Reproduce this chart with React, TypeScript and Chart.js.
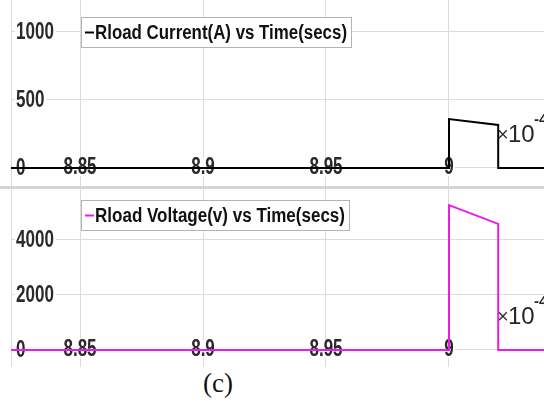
import React, { useEffect, useRef } from 'react';
import { Chart, registerables } from 'chart.js';

Chart.register(...registerables);

// ---- data ----
const timeSecs = [8.8, 9.0, 9.0, 9.02, 9.02, 9.05];
const currentA = [0, 0, 360, 316, 0, 0];
const voltageV = [0, 0, 5250, 4570, 0, 0];
const xTicks = [8.85, 8.9, 8.95, 9];
const xTickLabels = ['8.85', '8.9', '8.95', '9'];
const currentTicks = [0, 500, 1000];
const currentTickLabels = ['0', '500', '1000'];
const voltageTicks = [0, 2000, 4000];
const voltageTickLabels = ['0', '2000', '4000'];
const currentLegend = 'Rload Current(A) vs Time(secs)';
const voltageLegend = 'Rload Voltage(v) vs Time(secs)';
const exponentBase = '10';
const exponentPower = '-4';
const caption = '(c)';

// axis ranges
const X_MIN = 8.82195;
const X_MAX = 9.03862;
const CUR_MIN = -132.4;
const CUR_MAX = 1235;
const VOLT_MIN = -616;
const VOLT_MAX = 5833;

const TICK_FONT = 'bold 23px "Liberation Sans", Arial, sans-serif';
const TICK_SQUEEZE = 0.74;
const LEGEND_FONT = 'bold 20px "Liberation Sans", Arial, sans-serif';
const GRID = '#dcdcdc';

function squeezedText(ctx: CanvasRenderingContext2D, t: string, x: number, y: number, sx: number, align: 'left' | 'center') {
  const w = ctx.measureText(t).width * sx;
  const left = align === 'center' ? x - w / 2 : x;
  ctx.save();
  ctx.translate(left, y);
  ctx.scale(sx, 1);
  ctx.textAlign = 'left';
  ctx.fillText(t, 0, 0);
  ctx.restore();
  return w;
}

function makeOverlay(cfg: {
  yTicks: number[];
  yLabels: string[];
  legend: string;
  color: string;
  box: { x: number; y: number; w: number; h: number };
}) {
  return {
    id: 'overlay',
    beforeDatasetsDraw(chart: any) {
      const ctx = chart.ctx as CanvasRenderingContext2D;
      const xs = chart.scales.x;
      const ys = chart.scales.y;
      const y0 = ys.getPixelForValue(0);
      ctx.save();
      ctx.font = TICK_FONT;
      ctx.textBaseline = 'middle';
      // x tick labels on the zero line
      xTicks.forEach((v, i) => {
        const t = xTickLabels[i];
        const w = ctx.measureText(t).width * TICK_SQUEEZE;
        const px = xs.getPixelForValue(v);
        ctx.fillStyle = '#fff';
        ctx.fillRect(px - w / 2 - 1, y0 - 10, w + 2, 18);
        ctx.fillStyle = '#2a2a2a';
        squeezedText(ctx, t, px, y0, TICK_SQUEEZE, 'center');
      });
      // y tick labels inside
      cfg.yTicks.forEach((v, i) => {
        const t = cfg.yLabels[i];
        const w = ctx.measureText(t).width * TICK_SQUEEZE;
        const py = ys.getPixelForValue(v);
        ctx.fillStyle = '#fff';
        ctx.fillRect(15, py - 9, w + 3, 18);
        ctx.fillStyle = '#2a2a2a';
        squeezedText(ctx, t, 16, py + 1, TICK_SQUEEZE, 'left');
      });
      // exponent label
      const ey = y0 - 34;
      ctx.fillStyle = '#333';
      ctx.textAlign = 'left';
      ctx.font = '20px "Liberation Sans", sans-serif';
      ctx.fillText('\u00d7', 497, ey + 1);
      ctx.fillStyle = '#262626';
      ctx.font = '24px "Liberation Sans", sans-serif';
      ctx.fillText(exponentBase, 508, ey + 1);
      ctx.font = 'bold 15px "Liberation Sans", sans-serif';
      ctx.fillText(exponentPower, 534, ey - 14);
      ctx.restore();
    },
    afterDraw(chart: any) {
      const ctx = chart.ctx as CanvasRenderingContext2D;
      const b = cfg.box;
      ctx.save();
      ctx.fillStyle = '#fff';
      ctx.fillRect(b.x, b.y, b.w, b.h);
      ctx.strokeStyle = '#b4b4b4';
      ctx.lineWidth = 1;
      ctx.strokeRect(b.x + 0.5, b.y + 0.5, b.w - 1, b.h - 1);
      const cy = b.y + b.h / 2;
      ctx.strokeStyle = cfg.color;
      ctx.lineWidth = 2;
      ctx.beginPath();
      ctx.moveTo(b.x + 4, cy);
      ctx.lineTo(b.x + 13, cy);
      ctx.stroke();
      ctx.font = LEGEND_FONT;
      ctx.textBaseline = 'middle';
      ctx.textAlign = 'left';
      ctx.fillStyle = '#111';
      const target = b.w - 19;
      const w = ctx.measureText(cfg.legend).width;
      ctx.translate(b.x + 14, cy + 1);
      ctx.scale(target / w, 1);
      ctx.fillText(cfg.legend, 0, 0);
      ctx.restore();
    },
  };
}

function buildChart(
  canvas: HTMLCanvasElement,
  values: number[],
  color: string,
  yMin: number,
  yMax: number,
  yTicks: number[],
  yLabels: string[],
  legend: string,
  box: { x: number; y: number; w: number; h: number }
) {
  return new Chart(canvas, {
    type: 'line',
    data: {
      datasets: [
        {
          data: timeSecs.map((t, i) => ({ x: t, y: values[i] })),
          borderColor: color,
          borderWidth: 2,
          pointRadius: 0,
          tension: 0,
          fill: false,
        },
      ],
    },
    options: {
      animation: false,
      responsive: false,
      maintainAspectRatio: false,
      layout: { padding: { left: 11, right: 0, top: 0, bottom: 0 } },
      plugins: { legend: { display: false }, tooltip: { enabled: false } },
      scales: {
        x: {
          type: 'linear',
          min: X_MIN,
          max: X_MAX,
          afterBuildTicks: (s: any) => {
            s.ticks = xTicks.map((v) => ({ value: v }));
          },
          ticks: { display: false },
          grid: { color: GRID, drawTicks: false, lineWidth: 1 },
          border: { display: false },
        },
        y: {
          type: 'linear',
          min: yMin,
          max: yMax,
          afterBuildTicks: (s: any) => {
            s.ticks = yTicks.map((v) => ({ value: v }));
          },
          ticks: { display: false },
          grid: { color: GRID, drawTicks: false, lineWidth: 1 },
          border: { display: true, color: GRID },
        },
      },
    } as any,
    plugins: [makeOverlay({ yTicks, yLabels, legend, color, box })],
  });
}

export default function App() {
  const topRef = useRef<HTMLCanvasElement>(null);
  const botRef = useRef<HTMLCanvasElement>(null);

  useEffect(() => {
    const c1 = buildChart(
      topRef.current!, currentA, '#000000', CUR_MIN, CUR_MAX,
      currentTicks, currentTickLabels, currentLegend,
      { x: 81, y: 17, w: 271, h: 31 }
    );
    const c2 = buildChart(
      botRef.current!, voltageV, '#e81ee8', VOLT_MIN, VOLT_MAX,
      voltageTicks, voltageTickLabels, voltageLegend,
      { x: 81, y: 11, w: 269, h: 31 }
    );
    return () => {
      c1.destroy();
      c2.destroy();
    };
  }, []);

  return (
    <div style={{ position: 'fixed', left: 0, top: 0, width: 544, height: 401, background: '#fff', overflow: 'hidden' }}>
      <canvas ref={topRef} width={544} height={186} style={{ position: 'absolute', left: 0, top: 0, width: 544, height: 186 }} />
      <div style={{ position: 'absolute', left: 0, top: 186, width: 544, height: 3, background: '#d4d4d4' }} />
      <canvas ref={botRef} width={544} height={178} style={{ position: 'absolute', left: 0, top: 189, width: 544, height: 178 }} />
      <div style={{ position: 'absolute', left: 203, top: 370, font: '27px "Liberation Serif", "Times New Roman", serif', lineHeight: '27px', color: '#111' }}>{caption}</div>
    </div>
  );
}
